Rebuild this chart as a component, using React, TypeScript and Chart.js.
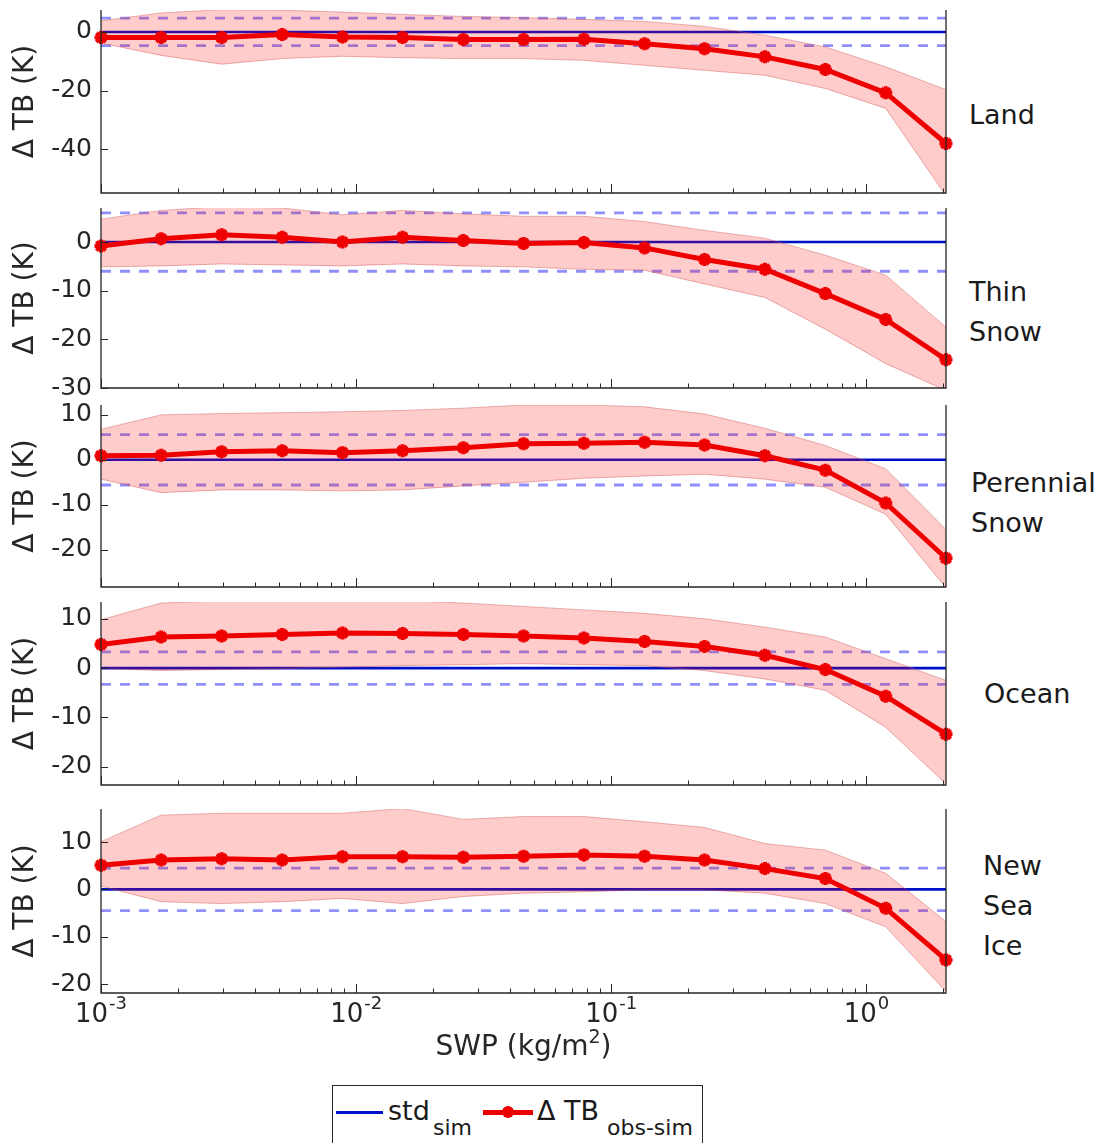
import React, { useEffect, useRef } from 'react';
import { Chart, registerables } from 'chart.js';

Chart.register(...registerables);

const FONT = "'DejaVu Sans', 'Liberation Sans', sans-serif";
const AXIS_COLOR = '#262626';

// ---------------- data ----------------
// SWP bin centres (kg/m^2)
const swp = [0.001, 0.00172, 0.00297, 0.00513, 0.00884, 0.0152, 0.0263, 0.0453, 0.0781, 0.135, 0.232, 0.4, 0.69, 1.19, 2.05];

const xTickValues = [0.001, 0.01, 0.1, 1];
const xTickExponents = ['-3', '-2', '-1', '0'];

const surfaceLabels = [['Land'], ['Thin', 'Snow'], ['Perennial', 'Snow'], ['Ocean'], ['New', 'Sea', 'Ice']];

// mean ΔTB obs-sim (K)
const landBias = [-1.9, -1.9, -1.9, -0.9, -1.7, -1.9, -2.6, -2.6, -2.5, -4.0, -5.7, -8.5, -12.8, -20.8, -38.1];
const thinBias = [-0.8, 0.7, 1.5, 1.0, 0.0, 1.0, 0.3, -0.3, -0.1, -1.2, -3.6, -5.6, -10.6, -15.9, -24.2];
const perBias = [0.9, 1.0, 1.8, 2.0, 1.6, 2.0, 2.7, 3.6, 3.7, 3.9, 3.3, 0.9, -2.3, -9.6, -21.9];
const oceanBias = [4.8, 6.3, 6.5, 6.8, 7.1, 7.0, 6.8, 6.5, 6.1, 5.4, 4.4, 2.6, -0.3, -5.7, -13.4];
const iceBias = [5.1, 6.2, 6.5, 6.2, 6.9, 6.9, 6.8, 7.0, 7.3, 7.0, 6.2, 4.4, 2.3, -4.0, -14.9];

// upper / lower edges of the shaded spread (K)
const landUpper = [3.8, 6.5, 7.6, 7.4, 6.8, 6.0, 5.3, 4.9, 4.3, 3.6, 1.9, -1.1, -5.1, -11.9, -19.7];
const landLower = [-3.8, -8.0, -11.0, -9.1, -8.3, -8.8, -9.1, -9.1, -9.7, -11.4, -13.1, -14.8, -19.3, -26.1, -56.0];
const thinUpper = [4.7, 6.5, 7.3, 7.0, 5.6, 6.5, 5.8, 5.3, 5.3, 4.2, 2.4, 0.8, -2.7, -6.8, -17.5];
const thinLower = [-5.1, -4.9, -4.5, -4.7, -4.9, -4.5, -4.9, -5.1, -5.6, -5.8, -8.6, -11.4, -17.9, -25.0, -30.5];
const perUpper = [6.8, 10.0, 10.3, 10.5, 10.7, 11.0, 11.5, 12.2, 12.2, 11.8, 10.2, 7.0, 3.2, -2.0, -15.5];
const perLower = [-4.3, -7.3, -6.7, -6.7, -6.9, -6.7, -5.8, -5.0, -4.1, -3.6, -3.2, -4.3, -6.1, -12.1, -28.5];
const oceanUpper = [9.8, 13.2, 13.6, 13.7, 13.7, 13.7, 13.2, 12.5, 11.8, 11.1, 10.0, 8.3, 6.3, 1.9, -2.5];
const oceanLower = [-0.1, -0.5, -0.3, -0.1, 0.2, 0.5, 0.7, 0.9, 0.7, 0.5, -0.5, -2.2, -4.5, -12.0, -23.5];
const iceUpper = [10.1, 15.7, 16.1, 16.1, 16.1, 17.1, 14.8, 15.4, 15.4, 14.3, 13.1, 9.7, 8.3, 3.4, -6.8];
const iceLower = [0.7, -2.6, -3.0, -2.6, -1.9, -3.0, -1.5, -0.8, -0.5, -0.1, -0.1, -0.8, -3.0, -7.9, -21.6];

// std of simulation (dashed ± lines), K
const stdSim = [4.7, 6.0, 5.6, 3.3, 4.5];

const biasSeries = [landBias, thinBias, perBias, oceanBias, iceBias];
const upperSeries = [landUpper, thinUpper, perUpper, oceanUpper, iceUpper];
const lowerSeries = [landLower, thinLower, perLower, oceanLower, iceLower];

const yMins = [-55, -30, -28.3, -23.7, -21.9];
const yMaxs = [7.5, 7, 12.2, 13.4, 17];
const yTickValues = [
  [-40, -20, 0],
  [-30, -20, -10, 0],
  [-20, -10, 0, 10],
  [-20, -10, 0, 10],
  [-20, -10, 0, 10],
];

// ---------------- layout ----------------
const PLOT_LEFT = 101;
const PLOT_RIGHT = 946;
const CANVAS_W = 960;
const panelTop = [10, 208, 405, 602, 809];
const panelBottom = [193, 388, 587, 785, 993];
const PAD_T = 16;
const PAD_B = 16;
const PAD_B_LAST = 50;
const labelX = [969, 969, 971, 984, 983];
const labelBaselines = [[124.5], [301.5, 341.5], [492, 532.5], [703], [875, 915, 955]];
const X_LABEL_BASELINE = 1022;
const X_TITLE_BASELINE = 1056;
const LEGEND_TOP = 1085;

const axisBoxPlugin = {
  id: 'axisBox',
  afterDatasetsDraw(chart: any, _args: any, opts: any) {
    const { ctx, chartArea: a } = chart;
    const xs = chart.scales.x;
    const ys = chart.scales.y;
    ctx.save();
    ctx.strokeStyle = AXIS_COLOR;
    ctx.lineWidth = 1.3;
    ctx.beginPath();
    ctx.moveTo(a.left, a.top);
    ctx.lineTo(a.left, a.bottom);
    ctx.lineTo(a.right, a.bottom);
    ctx.lineTo(a.right, a.top);
    ctx.stroke();

    ctx.lineWidth = 1;
    ctx.beginPath();
    for (const t of ys.ticks) {
      const py = Math.round(ys.getPixelForValue(t.value)) + 0.5;
      ctx.moveTo(a.left, py);
      ctx.lineTo(a.left + 7, py);
    }
    const lo = Math.floor(Math.log10(xs.min) + 1e-9);
    const hi = Math.ceil(Math.log10(xs.max) - 1e-9);
    for (let e = lo; e < hi; e++) {
      for (let m = 1; m < 10; m++) {
        const v = m * Math.pow(10, e);
        if (v < xs.min * 0.999 || v > xs.max * 1.001) continue;
        const px = Math.round(xs.getPixelForValue(v)) + 0.5;
        const len = m === 1 ? 9 : 4.5;
        ctx.moveTo(px, a.bottom);
        ctx.lineTo(px, a.bottom - len);
      }
    }
    ctx.stroke();

    if (opts && opts.labelBaseline) {
      ctx.fillStyle = AXIS_COLOR;
      ctx.textBaseline = 'alphabetic';
      ctx.textAlign = 'left';
      const base = a.bottom + opts.labelBaseline;
      xTickValues.forEach((v, k) => {
        const px = xs.getPixelForValue(v);
        ctx.font = `26px ${FONT}`;
        const w1 = ctx.measureText('10').width;
        ctx.font = `18px ${FONT}`;
        const w2 = ctx.measureText(xTickExponents[k]).width;
        const start = px - (w1 + w2 + 1) / 2;
        ctx.font = `26px ${FONT}`;
        ctx.fillText('10', start, base);
        ctx.font = `18px ${FONT}`;
        ctx.fillText(xTickExponents[k], start + w1 + 1, base - 13);
      });
    }
    ctx.restore();
  },
};

function makeConfig(i: number, last: boolean): any {
  const pts = (ys: number[]) => swp.map((x, k) => ({ x, y: ys[k] }));
  const flat = (v: number) => swp.map((x) => ({ x, y: v }));
  return {
    type: 'line',
    data: {
      datasets: [
        {
          label: 'ΔTB obs-sim',
          data: pts(biasSeries[i]),
          borderColor: '#ee0000',
          backgroundColor: '#ee0000',
          borderWidth: 5,
          pointStyle: 'star',
          pointRadius: 6.5,
          pointBorderWidth: 4,
          pointBorderColor: '#ee0000',
          pointBackgroundColor: '#ee0000',
          order: 0,
          clip: 12,
          tension: 0,
        },
        {
          label: 'upper',
          data: pts(upperSeries[i]),
          borderColor: 'rgba(205,90,90,0.45)',
          borderWidth: 1,
          pointRadius: 0,
          fill: '+1',
          backgroundColor: 'rgba(255,0,0,0.2)',
          order: 1,
          tension: 0,
        },
        {
          label: 'lower',
          data: pts(lowerSeries[i]),
          borderColor: 'rgba(205,90,90,0.45)',
          borderWidth: 1,
          pointRadius: 0,
          fill: false,
          order: 2,
          tension: 0,
        },
        {
          label: 'std_sim',
          data: flat(0),
          borderColor: '#0010c8',
          borderWidth: 2.6,
          pointRadius: 0,
          fill: false,
          order: 3,
        },
        {
          label: '+std',
          data: flat(stdSim[i]),
          borderColor: 'rgba(95,95,250,0.7)',
          borderWidth: 2.8,
          borderDash: [10, 9],
          pointRadius: 0,
          fill: false,
          order: 4,
        },
        {
          label: '-std',
          data: flat(-stdSim[i]),
          borderColor: 'rgba(95,95,250,0.7)',
          borderWidth: 2.8,
          borderDash: [10, 9],
          pointRadius: 0,
          fill: false,
          order: 5,
        },
      ],
    },
    options: {
      animation: false,
      responsive: false,
      maintainAspectRatio: false,
      events: [],
      layout: {
        autoPadding: false,
        padding: { left: 0, right: CANVAS_W - PLOT_RIGHT, top: PAD_T, bottom: last ? PAD_B_LAST : PAD_B },
      },
      plugins: {
        legend: { display: false },
        tooltip: { enabled: false },
        filler: { drawTime: 'beforeDatasetDraw' },
        axisBox: { labelBaseline: last ? X_LABEL_BASELINE - panelBottom[i] : 0 },
      },
      scales: {
        x: {
          type: 'logarithmic',
          display: false,
          min: swp[0],
          max: swp[swp.length - 1],
        },
        y: {
          type: 'linear',
          position: 'left',
          min: yMins[i],
          max: yMaxs[i],
          afterBuildTicks: (axis: any) => {
            axis.ticks = yTickValues[i].map((v) => ({ value: v }));
          },
          afterFit: (axis: any) => {
            axis.width = PLOT_LEFT;
            axis.paddingTop = 0;
            axis.paddingBottom = 0;
            axis.paddingLeft = 0;
            axis.paddingRight = 0;
          },
          grid: { display: false, drawTicks: false },
          border: { display: false },
          ticks: {
            font: { family: FONT, size: 25 },
            color: AXIS_COLOR,
            padding: 9,
            autoSkip: false,
          },
          title: {
            display: true,
            text: 'Δ TB (K)',
            font: { family: FONT, size: 28 },
            color: AXIS_COLOR,
            padding: { top: 9, bottom: 0 },
          },
        },
      },
    },
    plugins: [axisBoxPlugin],
  };
}

function TextAt(props: { x: number; baseline: number; size: number; children: any; color?: string }) {
  const { x, baseline, size, children, color } = props;
  return (
    <span
      style={{
        position: 'absolute',
        left: x,
        top: baseline - 0.928 * size,
        fontSize: size,
        lineHeight: `${1.164 * size}px`,
        whiteSpace: 'nowrap',
        color: color || '#1a1a1a',
      }}
    >
      {children}
    </span>
  );
}

export default function App() {
  const refs = useRef<(HTMLCanvasElement | null)[]>([]);

  useEffect(() => {
    Chart.defaults.font.family = FONT;
    const charts = biasSeries.map((_, i) => {
      const cv = refs.current[i] as HTMLCanvasElement;
      return new Chart(cv, makeConfig(i, i === biasSeries.length - 1));
    });
    return () => charts.forEach((c) => c.destroy());
  }, []);

  return (
    <div
      style={{
        position: 'absolute',
        left: 0,
        top: 0,
        width: 1113,
        height: 1143,
        background: '#ffffff',
        overflow: 'hidden',
        fontFamily: FONT,
        color: '#1a1a1a',
      }}
    >
      {biasSeries.map((_, i) => {
        const last = i === biasSeries.length - 1;
        const h = panelBottom[i] - panelTop[i] + PAD_T + (last ? PAD_B_LAST : PAD_B);
        return (
          <canvas
            key={i}
            ref={(el) => {
              refs.current[i] = el;
            }}
            width={CANVAS_W}
            height={h}
            style={{ position: 'absolute', left: 0, top: panelTop[i] - PAD_T, width: CANVAS_W, height: h }}
          />
        );
      })}

      {surfaceLabels.map((lines, i) =>
        lines.map((txt, j) => (
          <TextAt key={`${i}-${j}`} x={labelX[i]} baseline={labelBaselines[i][j]} size={27}>
            {txt}
          </TextAt>
        ))
      )}

      {/* x-axis title */}
      <div
        style={{
          position: 'absolute',
          left: PLOT_LEFT,
          width: PLOT_RIGHT - PLOT_LEFT,
          top: X_TITLE_BASELINE - 0.928 * 28,
          fontSize: 28,
          lineHeight: `${1.164 * 28}px`,
          textAlign: 'center',
          color: AXIS_COLOR,
          whiteSpace: 'nowrap',
        }}
      >
        SWP (kg/m<span style={{ fontSize: 19, verticalAlign: '12px', lineHeight: 0 }}>2</span>)
      </div>

      {/* legend */}
      <div
        style={{
          position: 'absolute',
          left: 332,
          top: LEGEND_TOP,
          width: 371,
          height: 80,
          border: `1px solid ${AXIS_COLOR}`,
          boxSizing: 'border-box',
          background: '#ffffff',
        }}
      >
        <div style={{ position: 'absolute', left: 3, top: 25, width: 47, height: 3, background: '#0010c8' }} />
        <TextAt x={55} baseline={34} size={27}>std</TextAt>
        <TextAt x={100} baseline={49} size={22}>sim</TextAt>
        <div style={{ position: 'absolute', left: 150, top: 24, width: 50, height: 5, background: '#ee0000' }} />
        <div
          style={{
            position: 'absolute',
            left: 169,
            top: 20,
            width: 12,
            height: 12,
            borderRadius: 6,
            background: '#ee0000',
          }}
        />
        <TextAt x={204} baseline={34} size={27}>Δ TB</TextAt>
        <TextAt x={274} baseline={49} size={22}>obs-sim</TextAt>
      </div>
    </div>
  );
}
